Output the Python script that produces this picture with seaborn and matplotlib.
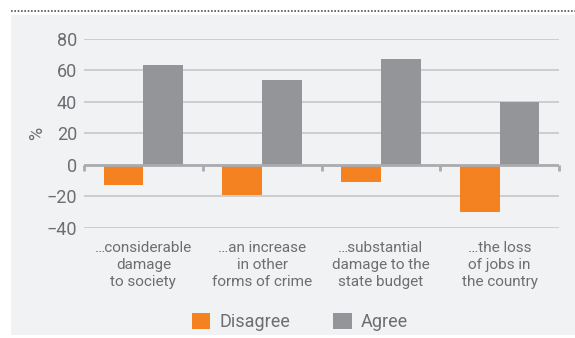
import matplotlib
matplotlib.use("Agg")
import matplotlib.pyplot as plt
from matplotlib.patches import Rectangle, Patch
from matplotlib.lines import Line2D
import pandas as pd
import seaborn as sns

# Survey answers: share disagreeing (negative) and agreeing per statement
statements = [
    "\u2026considerable\ndamage\nto society",
    "\u2026an increase\nin other\nforms of crime",
    "\u2026substantial\ndamage to the\nstate budget",
    "\u2026the loss\nof jobs in\nthe country",
]
disagree = [-13, -19, -11, -30]
agree = [63, 54, 67, 40]
responses = ["Disagree", "Agree"]
y_ticks = [-40, -20, 0, 20, 40, 60, 80]

ORANGE = "#f58220"
GREY = "#939598"
PANEL = "#f1f2f4"
TEXT = "#6d6e71"
GRID = "#c6c7c9"
ZERO = "#a9abae"

df = pd.DataFrame({
    "statement": statements * 2,
    "response": [responses[0]] * len(statements) + [responses[1]] * len(statements),
    "value": disagree + agree,
})

sns.set_theme(style="white")
plt.rcParams["font.family"] = ["Roboto", "DejaVu Sans"]

fig = plt.figure(figsize=(5.75, 3.38), dpi=100)
W, H = 575, 338

# light panel behind the chart and dotted rule above it
fig.patches.append(Rectangle((11 / W, 1 - 335 / H), 1 - 11 / W, (335 - 15) / H,
                             transform=fig.transFigure, facecolor=PANEL,
                             edgecolor="none", zorder=-10))
fig.lines.append(Line2D([11 / W, 1], [1 - 10.5 / H, 1 - 10.5 / H],
                        transform=fig.transFigure, color="#555555",
                        linestyle=(0, (1, 1)), linewidth=1.2, zorder=-10))

ax = fig.add_axes([84 / W, 1 - 228 / H, (559 - 84) / W, (228 - 38.5) / H])
ax.set_facecolor("none")

sns.barplot(data=df, x="statement", y="value", hue="response",
            hue_order=responses, palette=[ORANGE, GREY], width=0.67,
            saturation=1, dodge=True, legend=False, ax=ax, zorder=3,
            linewidth=0, edgecolor="none")

ax.set_ylim(-40, 80)
ax.set_xlim(-0.5, len(statements) - 0.5)
ax.set_yticks(y_ticks)
ax.set_yticklabels([str(v).replace("-", "\u2212") if v < 0 else str(v) for v in y_ticks])
for v in y_ticks:
    if v != 0:
        ax.axhline(v, color=GRID, linewidth=1.2, zorder=1)
ax.axhline(0, color=ZERO, linewidth=2.0, zorder=4)

for s in ax.spines.values():
    s.set_visible(False)
ax.tick_params(axis="y", length=0, pad=5, labelsize=13, labelcolor=TEXT)
ax.tick_params(axis="x", length=0, pad=9, labelsize=11, labelcolor=TEXT)
for lab in ax.get_xticklabels():
    lab.set_linespacing(1.3)

ax.set_xlabel("")
ax.set_ylabel("%", fontsize=13, color=TEXT, labelpad=0)

# small category separators hanging from the zero line
sec = ax.secondary_xaxis(40 / 120)
sec.set_xticks([i - 0.5 for i in range(len(statements) + 1)])
sec.set_xticklabels([])
sec.spines["bottom"].set_visible(False)
sec.tick_params(axis="x", direction="out", length=4, width=2, color=ZERO)

handles = [Patch(facecolor=ORANGE, edgecolor="none"), Patch(facecolor=GREY, edgecolor="none")]
fig.legend(handles, responses, loc="center", bbox_to_anchor=(300 / W, 1 - 322 / H),
           ncol=2, frameon=False, fontsize=13, handlelength=1.0, handleheight=1.0,
           handletextpad=0.5, columnspacing=2.4, labelcolor=TEXT)

fig.savefig("out.png", dpi=100)
